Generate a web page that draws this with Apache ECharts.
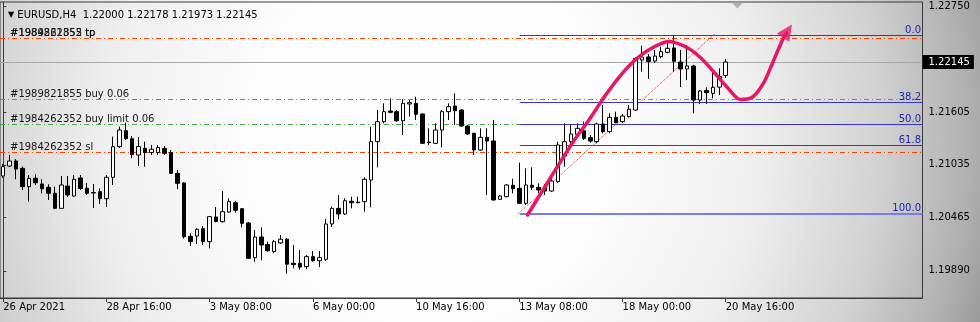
<!DOCTYPE html>
<html><head><meta charset="utf-8">
<script src="https://cdn.jsdelivr.net/npm/echarts@6/dist/echarts.min.js"></script>
<style>html,body{margin:0;padding:0;background:#fff}#c{width:980px;height:322px}</style>
</head><body><div id="c"></div>
<script>
const symbolName = 'EURUSD,H4';
const opens = [1.20914,1.21022,1.21076,1.20997,1.20799,1.20889,1.20828,1.20792,1.20727,1.20565,
1.20806,1.20698,1.20893,1.20781,1.20736,1.20745,1.20669,1.20900,1.21231,1.21403,
1.21317,1.21141,1.21213,1.21168,1.21168,1.21213,1.21168,1.20943,1.20839,1.20263,
1.20266,1.20345,1.20205,1.20471,1.20421,1.20525,1.20626,1.20561,1.20407,1.20032,
1.20255,1.20174,1.20097,1.20191,1.20232,1.19971,1.19971,1.19935,1.20043,1.19999,
1.20015,1.20396,1.20565,1.20504,1.20641,1.20633,1.20637,1.20871,1.21285,1.21501,
1.21616,1.21609,1.21511,1.21692,1.21699,1.21584,1.21281,1.21267,1.21411,1.21609,
1.21670,1.21627,1.21454,1.21375,1.21195,1.21332,1.21292,1.20663,1.20691,1.20814,
1.20781,1.20619,1.20814,1.20792,1.20792,1.20752,1.20853,1.21130,1.21285,1.21365,
1.21403,1.21328,1.21285,1.21476,1.21393,1.21548,1.21501,1.21555,1.21627,1.22167,
1.22199,1.22156,1.22203,1.22250,1.22297,1.22145,1.22070,1.22102,1.21735,1.21838,
1.21807,1.21875,1.22000];
const closes = [1.21015,1.21076,1.20990,1.20799,1.20889,1.20842,1.20777,1.20727,1.20565,1.20817,
1.20709,1.20879,1.20779,1.20727,1.20731,1.20669,1.20900,1.21231,1.21411,1.21317,
1.21146,1.21233,1.21168,1.21203,1.21222,1.21159,1.20943,1.20835,1.20259,1.20205,
1.20339,1.20205,1.20475,1.20423,1.20529,1.20637,1.20544,1.20403,1.20025,1.20255,
1.20169,1.20107,1.20205,1.20231,1.19962,1.19958,1.19931,1.20043,1.19999,1.20032,
1.20396,1.20565,1.20504,1.20647,1.20626,1.20626,1.20879,1.21285,1.21501,1.21609,
1.21602,1.21511,1.21699,1.21706,1.21581,1.21267,1.21274,1.21411,1.21609,1.21663,
1.21619,1.21454,1.21368,1.21195,1.21332,1.21292,1.20655,1.20698,1.20817,1.20777,
1.20619,1.20817,1.20792,1.20763,1.20752,1.20860,1.21249,1.21285,1.21368,1.21429,
1.21321,1.21292,1.21476,1.21393,1.21548,1.21490,1.21562,1.21635,1.22185,1.22199,
1.22151,1.22210,1.22257,1.22293,1.22153,1.22070,1.22102,1.21735,1.21832,1.21814,
1.21872,1.21989,1.22145];
const lows = [1.20893,1.21011,1.20879,1.20763,1.20637,1.20817,1.20727,1.20655,1.20558,1.20558,
1.20687,1.20691,1.20763,1.20709,1.20569,1.20612,1.20579,1.20817,1.21217,1.21303,
1.21105,1.21022,1.21015,1.21141,1.21141,1.21141,1.20936,1.20771,1.20239,1.20158,
1.20180,1.20169,1.20133,1.20412,1.20412,1.20518,1.20518,1.20360,1.20018,1.19989,
1.20004,1.20097,1.20083,1.20180,1.19859,1.19917,1.19904,1.19907,1.19989,1.19931,
1.19996,1.20363,1.20447,1.20493,1.20565,1.20619,1.20529,1.20576,1.21008,1.21483,
1.21591,1.21501,1.21357,1.21555,1.21519,1.21260,1.21249,1.21260,1.21224,1.21519,
1.21465,1.21447,1.21357,1.21141,1.21187,1.20709,1.20650,1.20655,1.20684,1.20727,
1.20612,1.20601,1.20763,1.20727,1.20709,1.20745,1.20839,1.21015,1.21231,1.21346,
1.21303,1.21274,1.21267,1.21375,1.21375,1.21483,1.21487,1.21546,1.21616,1.22041,
1.21962,1.22135,1.22185,1.22239,1.22041,1.21875,1.21951,1.21591,1.21692,1.21692,
1.21753,1.21789,1.21973];
const highs = [1.21044,1.21141,1.21098,1.21015,1.20925,1.20933,1.20879,1.20825,1.20799,1.20914,
1.20914,1.20925,1.20925,1.20839,1.20828,1.20781,1.20925,1.21339,1.21447,1.21490,
1.21346,1.21335,1.21285,1.21249,1.21249,1.21238,1.21195,1.20979,1.20849,1.20295,
1.20349,1.20374,1.20482,1.20579,1.20752,1.20673,1.20647,1.20569,1.20417,1.20331,
1.20360,1.20205,1.20223,1.20277,1.20245,1.20169,1.20115,1.20061,1.20104,1.20104,
1.20450,1.20583,1.20709,1.20673,1.20691,1.20691,1.20900,1.21447,1.21627,1.21699,
1.21753,1.21627,1.21743,1.21735,1.21771,1.21591,1.21429,1.21483,1.21627,1.21699,
1.21807,1.21635,1.21465,1.21382,1.21429,1.21429,1.21519,1.20709,1.20828,1.20885,
1.21058,1.20997,1.21008,1.20835,1.20828,1.20885,1.21285,1.21483,1.21465,1.21483,
1.21501,1.21357,1.21490,1.21681,1.21591,1.21609,1.21584,1.21681,1.22194,1.22321,
1.22229,1.22275,1.22311,1.22367,1.22437,1.22275,1.22329,1.22113,1.21843,1.21872,
1.22041,1.22077,1.22178];

const totalSlots = 143;               // bar slots incl. chart shift area
const timeLabels = ['26 Apr 2021','28 Apr 16:00','3 May 08:00','6 May 00:00','10 May 16:00','13 May 08:00','18 May 00:00','20 May 16:00'];
const timeLabelStep = 16;
const priceTicks = [1.22750, 1.21605, 1.21035, 1.20465, 1.19890];
const bidPrice = 1.22145;

const orderNames = ['#1989821855 tp', '#1984262352 tp', '#1989821855 buy 0.06', '#1984262352 buy limit 0.06', '#1984262352 sl'];
const orderPrices = [1.22397, 1.22397, 1.21746, 1.21476, 1.21170];
const orderColors = ['#ff4200', '#ff4200', '#4aa84a', '#4aa84a', '#ff4200'];

const fibLabels = ['0.0', '38.2', '50.0', '61.8', '100.0'];
const fibPrices = [1.22437, 1.21706, 1.21476, 1.21249, 1.20507];
const fibStartBar = 80.08;

const trendBars = [79.83, 110.3];
const trendPrices = [1.20507, 1.22451];

const arrowBars = [81.27, 84.82, 88.53, 90.69, 93.16, 95.48, 97.79, 100.42, 103.20, 106.13, 108.14, 110.15, 112.31, 114.32, 116.17, 117.87, 119.26, 120.65, 121.42];
const arrowPrices = [1.20493, 1.20893, 1.21303, 1.21508, 1.21767, 1.21983, 1.22156, 1.22291, 1.22367, 1.22297, 1.22189, 1.22037, 1.21865, 1.21740, 1.21767, 1.21919, 1.22135, 1.22361, 1.22459];
const arrowHead = [121.57, 1.22480];
const shiftMarker = [113.81, 1.22756];

const FONT = 'DejaVu Sans';
const slots = Array.from({length: totalSlots}, (_, i) => String(i));
const candles = opens.map((o, i) => [o, closes[i], lows[i], highs[i]]);
const isLabelIdx = (idx) => idx % timeLabelStep === 0 && idx / timeLabelStep < timeLabels.length;
const last = opens.length - 1;
const header = '{t|▼} ' + symbolName + '  ' + [opens[last], highs[last], lows[last], closes[last]].map(v => v.toFixed(5)).join(' ');

const orderMarks = orderNames.map((n, i) => ({
  yAxis: orderPrices[i],
  lineStyle: {color: orderColors[i], type: [5, 3, 1, 3], width: 1},
  label: {show: true, formatter: n, position: 'insideStartTop', distance: [10, 0], color: '#151515', fontFamily: FONT, fontSize: 10}
}));
orderMarks.push({
  yAxis: bidPrice,
  lineStyle: {color: '#a8a8a8', type: 'solid', width: 1},
  label: {show: true, formatter: bidPrice.toFixed(5), position: 'end', distance: 0, backgroundColor: '#000', color: '#fff', padding: [2, 4, 2, 6], fontFamily: FONT, fontSize: 10}
});
const fibMarks = fibLabels.map((l, i) => [
  {coord: [fibStartBar, fibPrices[i]],
   lineStyle: {color: i === 4 ? '#7b7bf0' : '#3434d0', type: 'solid', width: i === 4 ? 2 : 1},
   label: {show: true, formatter: l, position: 'insideEndTop', distance: [1.5, 0], color: '#1e1eb4', fontFamily: FONT, fontSize: 10}},
  {coord: [totalSlots - 0.5, fibPrices[i]]}
]);

const chart = echarts.init(document.getElementById('c'), null, {renderer: 'canvas'});
chart.setOption({
  animation: false,
  backgroundColor: {type: 'radial', x: 430, y: 140, r: 600, global: true,
    colorStops: [{offset: 0, color: '#ffffff'}, {offset: 0.3, color: '#fdfdfd'}, {offset: 0.55, color: '#eeeeee'},
                 {offset: 0.75, color: '#d2d2d2'}, {offset: 0.9, color: '#b0b0b0'}, {offset: 1, color: '#8e8e8e'}]},
  title: {text: header, left: 3, top: 5,
    textStyle: {fontFamily: FONT, fontSize: 10, fontWeight: 'normal', color: '#000', rich: {t: {fontSize: 8, color: '#000'}}}},
  grid: {left: -3.5, top: 2, width: 926, height: 296, show: true, borderColor: '#3a3a3a', borderWidth: 1, backgroundColor: 'transparent'},
  xAxis: [
    {type: 'category', data: slots, boundaryGap: true,
     axisLine: {lineStyle: {color: '#3a3a3a'}},
     axisTick: {show: true, alignWithLabel: true, interval: (idx) => isLabelIdx(idx), length: 4, lineStyle: {color: '#3a3a3a'}},
     axisLabel: {interval: (idx) => isLabelIdx(idx), formatter: (v, idx) => timeLabels[idx / timeLabelStep] || '',
                 align: 'left', color: '#000', fontFamily: FONT, fontSize: 10, margin: 4},
     splitLine: {show: false}},
    {type: 'value', min: -0.5, max: totalSlots - 0.5, show: false}
  ],
  yAxis: {type: 'value', position: 'right', min: 1.195966, max: 1.227934, scale: true,
    axisLine: {show: true, lineStyle: {color: '#3a3a3a'}},
    axisTick: {show: true, length: 3, customValues: priceTicks, lineStyle: {color: '#3a3a3a'}},
    axisLabel: {customValues: priceTicks, formatter: (v) => v.toFixed(5), color: '#000', fontFamily: FONT, fontSize: 10, margin: 6},
    splitLine: {show: false}},
  series: [
    {type: 'line', name: 'trend', xAxisIndex: 1, yAxisIndex: 0, z: 2,
     data: trendBars.map((b, i) => [b, trendPrices[i]]), symbol: 'none',
     lineStyle: {color: '#ff2020', type: 'dotted', width: 1},
     markLine: {symbol: ['none', 'none'], silent: true, animation: false, precision: 5, z: 1, data: orderMarks.concat(fibMarks)}},
    {type: 'candlestick', name: 'EURUSD', xAxisIndex: 0, yAxisIndex: 0, z: 3, barWidth: 4,
     data: candles,
     itemStyle: {color: '#ffffff', color0: '#000000', borderColor: '#000000', borderColor0: '#000000', borderWidth: 1}},
    {type: 'line', name: 'arrow', xAxisIndex: 1, yAxisIndex: 0, z: 10, smooth: 0.3,
     data: arrowBars.map((b, i) => [b, arrowPrices[i]]), symbol: 'none',
     lineStyle: {color: '#ea1566', width: 3.5, cap: 'round'}},
    {type: 'scatter', name: 'arrowHead', xAxisIndex: 1, yAxisIndex: 0, z: 11,
     data: [arrowHead], symbol: 'triangle', symbolSize: [15, 16], symbolRotate: -34,
     itemStyle: {color: '#ea1566'}},
    {type: 'scatter', name: 'shift', xAxisIndex: 1, yAxisIndex: 0, z: 11,
     data: [shiftMarker], symbol: 'triangle', symbolSize: [11, 6], symbolRotate: 180,
     itemStyle: {color: '#a4a4a4'}}
  ]
});
</script></body></html>
